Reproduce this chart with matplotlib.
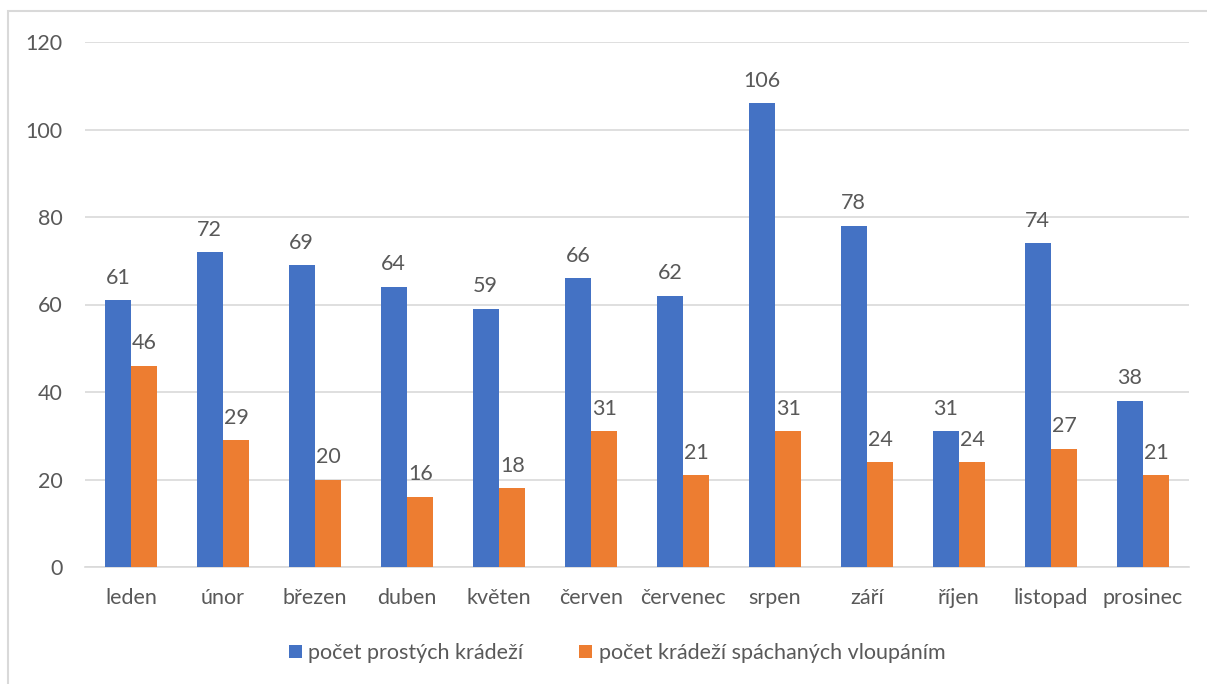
import numpy as np
import matplotlib
matplotlib.use("Agg")
import matplotlib.pyplot as plt
from matplotlib.patches import Rectangle

plt.rcParams["font.family"] = ["Lato", "DejaVu Sans"]

# data
mesice = ["leden", "únor", "březen", "duben", "květen", "červen",
          "červenec", "srpen", "září", "říjen", "listopad", "prosinec"]
proste = [61, 72, 69, 64, 59, 66, 62, 106, 78, 31, 74, 38]
vloupani = [46, 29, 20, 16, 18, 31, 21, 31, 24, 24, 27, 21]
y_ticks = [0, 20, 40, 60, 80, 100, 120]

BLUE = "#4472C4"
ORANGE = "#ED7D31"
TXT = "#595959"
FS = 15.5

W, H = 1207, 684
fig = plt.figure(figsize=(W / 100, H / 100), dpi=100)
ax = fig.add_axes([85 / W, 1 - 567 / H, 1104 / W, 525 / H])

x = np.arange(len(mesice))
w = 0.288
b1 = ax.bar(x - w / 2, proste, w, color=BLUE, label="počet prostých krádeží", zorder=3)
b2 = ax.bar(x + w / 2, vloupani, w, color=ORANGE, label="počet krádeží spáchaných vloupáním", zorder=3)

for bars in (b1, b2):
    ax.bar_label(bars, padding=9, fontsize=FS, color=TXT)

ax.set_xlim(-0.5, len(mesice) - 0.5)
ax.set_ylim(0, 120)
ax.set_yticks(y_ticks)
ax.set_xticks(x)
ax.set_xticklabels(mesice)
ax.tick_params(axis="both", length=0, labelsize=FS, labelcolor=TXT)
ax.tick_params(axis="y", pad=16)
ax.tick_params(axis="x", pad=15)
ax.yaxis.grid(True, color="#D9D9D9", linewidth=1.2, zorder=0)
for s in ["top", "right", "left"]:
    ax.spines[s].set_visible(False)
ax.spines["bottom"].set_color("#D9D9D9")
ax.spines["bottom"].set_linewidth(1.2)

fig.legend(handles=[b1, b2], loc="center", bbox_to_anchor=(617 / W, 1 - 653 / H),
           ncol=2, frameon=False, fontsize=FS, labelcolor=TXT,
           handlelength=0.6, handleheight=0.6, columnspacing=2.6, handletextpad=0.3)

# chart frame: left/top edges visible, right/bottom cut off
fig.patches.append(Rectangle((8 / W, -0.05), 1.1, 1.05 - 11 / H, transform=fig.transFigure,
                             fill=False, edgecolor="#D9D9D9", linewidth=1.5))

fig.savefig("out.png", dpi=100)
